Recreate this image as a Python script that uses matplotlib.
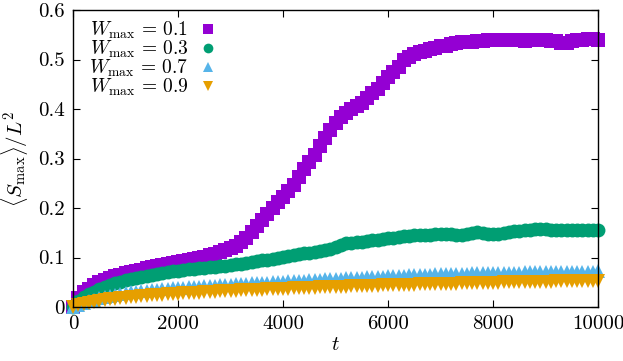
import numpy as np
import matplotlib
matplotlib.use("Agg")
import matplotlib.pyplot as plt

plt.rcParams['mathtext.fontset'] = 'cm'
plt.rcParams['font.family'] = 'cmr10'
plt.rcParams['axes.formatter.use_mathtext'] = True

# time axis, one sample every 100 steps
t = np.arange(0, 10001, 100)

w01 = [0.000, 0.018, 0.030, 0.037, 0.044, 0.050, 0.054, 0.058, 0.062, 0.065,
       0.068, 0.070, 0.073, 0.075, 0.078, 0.080, 0.082, 0.085, 0.087, 0.089,
       0.091, 0.093, 0.095, 0.097, 0.099, 0.102, 0.105, 0.108, 0.111, 0.115,
       0.119, 0.124, 0.131, 0.140, 0.151, 0.163, 0.175, 0.188, 0.200, 0.212,
       0.222, 0.234, 0.246, 0.262, 0.278, 0.292, 0.308, 0.325, 0.342, 0.358,
       0.372, 0.383, 0.392, 0.400, 0.407, 0.413, 0.422, 0.432, 0.441, 0.452,
       0.465, 0.475, 0.485, 0.500, 0.506, 0.512, 0.515, 0.518, 0.521, 0.524,
       0.527, 0.528, 0.531, 0.533, 0.535, 0.536, 0.536, 0.537, 0.538, 0.539,
       0.539, 0.540, 0.540, 0.540, 0.539, 0.539, 0.538, 0.539, 0.540, 0.540,
       0.539, 0.538, 0.537, 0.533, 0.534, 0.537, 0.539, 0.540, 0.541, 0.541,
       0.540]

w03 = [0.000, 0.012, 0.020, 0.026, 0.031, 0.036, 0.040, 0.044, 0.048, 0.051,
       0.054, 0.056, 0.059, 0.061, 0.063, 0.065, 0.067, 0.069, 0.070, 0.072,
       0.073, 0.074, 0.076, 0.077, 0.078, 0.079, 0.080, 0.081, 0.082, 0.083,
       0.084, 0.086, 0.087, 0.088, 0.090, 0.092, 0.094, 0.095, 0.097, 0.099,
       0.101, 0.103, 0.105, 0.107, 0.109, 0.110, 0.112, 0.114, 0.116, 0.118,
       0.121, 0.125, 0.129, 0.130, 0.131, 0.132, 0.134, 0.135, 0.136, 0.138,
       0.139, 0.140, 0.142, 0.143, 0.144, 0.145, 0.145, 0.145, 0.146, 0.147,
       0.147, 0.148, 0.147, 0.145, 0.145, 0.147, 0.150, 0.152, 0.150, 0.148,
       0.147, 0.148, 0.149, 0.151, 0.153, 0.154, 0.155, 0.156, 0.157, 0.157,
       0.157, 0.156, 0.156, 0.156, 0.156, 0.156, 0.156, 0.156, 0.156, 0.156,
       0.156]

w07 = [0.000, 0.005, 0.009, 0.012, 0.015, 0.018, 0.021, 0.023, 0.025, 0.027,
       0.029, 0.030, 0.031, 0.032, 0.033, 0.034, 0.035, 0.036, 0.037, 0.038,
       0.038, 0.039, 0.040, 0.040, 0.041, 0.042, 0.042, 0.043, 0.044, 0.044,
       0.045, 0.046, 0.046, 0.047, 0.048, 0.048, 0.049, 0.049, 0.050, 0.050,
       0.051, 0.052, 0.052, 0.053, 0.053, 0.054, 0.055, 0.055, 0.056, 0.056,
       0.057, 0.057, 0.058, 0.058, 0.059, 0.059, 0.060, 0.060, 0.061, 0.061,
       0.062, 0.062, 0.063, 0.063, 0.064, 0.064, 0.065, 0.065, 0.065, 0.066,
       0.066, 0.066, 0.067, 0.067, 0.067, 0.067, 0.068, 0.068, 0.068, 0.068,
       0.068, 0.069, 0.069, 0.069, 0.069, 0.069, 0.070, 0.070, 0.070, 0.070,
       0.070, 0.070, 0.070, 0.071, 0.071, 0.071, 0.071, 0.071, 0.071, 0.071,
       0.072]

w09 = [0.000, 0.004, 0.007, 0.009, 0.011, 0.013, 0.014, 0.016, 0.017, 0.018,
       0.019, 0.020, 0.021, 0.022, 0.023, 0.024, 0.024, 0.025, 0.026, 0.026,
       0.027, 0.028, 0.028, 0.029, 0.029, 0.030, 0.030, 0.031, 0.032, 0.032,
       0.033, 0.033, 0.034, 0.034, 0.034, 0.035, 0.035, 0.036, 0.036, 0.036,
       0.037, 0.037, 0.038, 0.038, 0.038, 0.039, 0.039, 0.040, 0.040, 0.040,
       0.041, 0.041, 0.041, 0.042, 0.042, 0.042, 0.043, 0.043, 0.043, 0.044,
       0.044, 0.044, 0.045, 0.045, 0.045, 0.045, 0.046, 0.046, 0.046, 0.046,
       0.047, 0.047, 0.047, 0.047, 0.048, 0.048, 0.048, 0.048, 0.049, 0.049,
       0.049, 0.049, 0.050, 0.050, 0.050, 0.050, 0.050, 0.051, 0.051, 0.051,
       0.051, 0.051, 0.052, 0.052, 0.052, 0.052, 0.052, 0.053, 0.053, 0.053,
       0.053]

labels = [r'$W_{\max}\,=\,0.1$', r'$W_{\max}\,=\,0.3$',
          r'$W_{\max}\,=\,0.7$', r'$W_{\max}\,=\,0.9$']
colors = ['#9400D3', '#009E73', '#56B4E9', '#E69F00']
markers = ['s', 'o', '^', 'v']
sizes = [9.5, 10.0, 10.0, 10.0]

xticks = [0, 2000, 4000, 6000, 8000, 10000]
yticks = [0, 0.1, 0.2, 0.3, 0.4, 0.5, 0.6]
ytick_labels = ['0', '0.1', '0.2', '0.3', '0.4', '0.5', '0.6']

fig = plt.figure(figsize=(6.23, 3.61), dpi=100)
ax = fig.add_axes([73 / 623, 1 - 307 / 361, 525 / 623, 297 / 361])

for y, lab, c, m, ms in zip([w01, w03, w07, w09], labels, colors, markers, sizes):
    ax.plot(t, y, linestyle='none', marker=m, color=c, markersize=ms,
            markeredgewidth=0, label=lab, clip_on=False)

ax.set_xlim(0, 10000)
ax.set_ylim(0, 0.6)
ax.set_xticks(xticks)
ax.set_xticklabels([str(v) for v in xticks])
ax.set_yticks(yticks)
ax.set_yticklabels(ytick_labels)
ax.tick_params(direction='in', length=5, width=0.8, top=True, right=True,
               labelsize=15, pad=6)
for s in ax.spines.values():
    s.set_linewidth(1.0)

ax.set_xlabel(r'$t$', fontsize=15, labelpad=2)
ax.set_ylabel(r'$\langle S_{\max}\rangle/L^2$', fontsize=15, labelpad=6)

ax.legend(loc='upper left', bbox_to_anchor=(0.005, 1.012), markerfirst=False,
          frameon=False, fontsize=14, labelspacing=-0.12, handlelength=0.8,
          handletextpad=0.6, borderaxespad=0.3, markerscale=0.7)

fig.savefig('out.png', dpi=100)
